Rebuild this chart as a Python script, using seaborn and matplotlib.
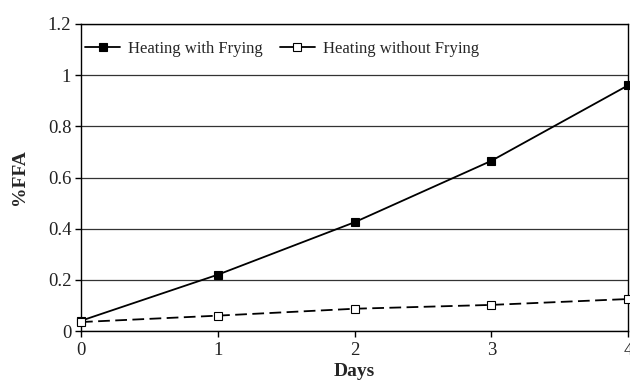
import matplotlib
matplotlib.use("Agg")
import matplotlib.pyplot as plt
import seaborn as sns
import pandas as pd

days = [0, 1, 2, 3, 4]
with_frying = [0.04, 0.22, 0.425, 0.665, 0.96]
without_frying = [0.035, 0.06, 0.087, 0.102, 0.125]
labels = ["Heating with Frying", "Heating without Frying"]

sns.set_theme(style="white")
plt.rcParams['font.family'] = ['Liberation Serif', 'DejaVu Serif']

df = pd.DataFrame({
    "Days": days * 2,
    "FFA": with_frying + without_frying,
    "Series": [labels[0]] * len(days) + [labels[1]] * len(days),
})

fig = plt.figure(figsize=(6.3, 3.84), dpi=100)
ax = fig.add_axes([81 / 630, 1 - 331 / 384, (628 - 81) / 630, (331 - 24) / 384])

for i, (name, fc, ls) in enumerate([(labels[0], "black", "-"), (labels[1], "white", (0, (6.5, 3)))]):
    sub = df[df["Series"] == name]
    sns.lineplot(data=sub, x="Days", y="FFA", ax=ax, color="black", linewidth=1.3,
                 linestyle=ls, marker="s", markersize=5.5, markerfacecolor=fc,
                 markeredgecolor="black", markeredgewidth=0.8, label=name, clip_on=False, zorder=3)

ax.set_xlim(0, 4)
ax.set_ylim(0, 1.2)
ax.set_xticks(days)
ax.set_xticklabels([str(d) for d in days])
ax.set_yticks([0, 0.2, 0.4, 0.6, 0.8, 1.0, 1.2])
ax.set_yticklabels(["0", "0.2", "0.4", "0.6", "0.8", "1", "1.2"])
ax.yaxis.grid(True, color="#333333", linewidth=0.9)
ax.xaxis.grid(False)
for s in ax.spines.values():
    s.set_color("black")
    s.set_linewidth(1.0)
ax.tick_params(axis="both", which="major", direction="out", length=4, width=1,
               color="black", labelsize=13.5, labelcolor="#222222", bottom=True, left=True)
ax.tick_params(axis="x", pad=4)
ax.tick_params(axis="y", pad=3)
ax.set_xlabel("Days", fontsize=14, fontweight="bold", labelpad=3)
ax.set_ylabel("%FFA", fontsize=14, fontweight="bold", labelpad=14)

leg = ax.legend(loc="upper left", ncol=2, frameon=False, fontsize=12,
                bbox_to_anchor=(0.0, 0.958), handlelength=2.1, columnspacing=1.0,
                handletextpad=0.5, borderaxespad=0.0, borderpad=0.25)
for h in leg.get_lines():
    h.set_linestyle("-")

fig.savefig("out.png", dpi=100)
